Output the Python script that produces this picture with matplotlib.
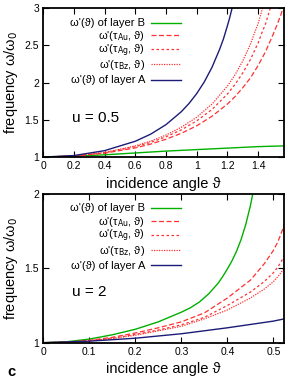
import matplotlib
matplotlib.use("Agg")
import matplotlib.pyplot as plt

plt.rcParams['font.family'] = ['Liberation Sans', 'DejaVu Sans']
plt.rcParams['mathtext.fontset'] = 'dejavusans'

# panel u = 0.5
t_topB = [0, 0.2, 0.4, 0.6, 0.8, 1.0, 1.2, 1.4, 1.5708]
top_B = [1.0, 1.01, 1.03, 1.055, 1.08, 1.10, 1.12, 1.14, 1.15]
t_topAu = [0, 0.2, 0.4, 0.6, 0.7, 0.8, 0.9, 1.0, 1.1, 1.2, 1.25, 1.3, 1.35, 1.4, 1.45, 1.5, 1.525, 1.55, 1.5708]
top_Au = [1.0, 1.013, 1.052, 1.123, 1.174, 1.239, 1.319, 1.419, 1.548, 1.711, 1.811, 1.930,
          2.061, 2.227, 2.420, 2.655, 2.780, 2.919, 3.052]
t_topAg = [0, 0.2, 0.4, 0.6, 0.7, 0.8, 0.9, 1.0, 1.1, 1.2, 1.25, 1.3, 1.35, 1.4, 1.425, 1.45, 1.475, 1.5]
top_Ag = [1.0, 1.014, 1.058, 1.139, 1.197, 1.272, 1.365, 1.485, 1.639, 1.845, 1.975, 2.128,
          2.308, 2.530, 2.667, 2.795, 2.967, 3.152]
t_topBz = [0, 0.2, 0.4, 0.6, 0.7, 0.8, 0.9, 1.0, 1.1, 1.2, 1.25, 1.3, 1.35, 1.375, 1.4, 1.425, 1.45]
top_Bz = [1.0, 1.015, 1.062, 1.150, 1.214, 1.295, 1.400, 1.534, 1.711, 1.952, 2.104, 2.289,
          2.513, 2.655, 2.788, 2.967, 3.152]
t_topA = [0, 0.2, 0.4, 0.6, 0.7, 0.8, 0.9, 0.95, 1.0, 1.05, 1.1, 1.15, 1.175, 1.2, 1.215, 1.23, 1.245]
top_A = [1.0, 1.020, 1.086, 1.212, 1.307, 1.435, 1.609, 1.719, 1.851, 2.010, 2.205, 2.448,
         2.589, 2.760, 2.868, 2.992, 3.126]

# panel u = 2
t_bot = [0, 0.05, 0.1, 0.15, 0.2, 0.25, 0.3, 0.35, 0.4, 0.45, 0.48, 0.5, 0.51, 0.5236]
bot_Au = [1.0, 1.004, 1.016, 1.036, 1.065, 1.10, 1.14, 1.20, 1.30, 1.42, 1.53, 1.62, 1.68, 1.79]
bot_Ag = [1.0, 1.003, 1.013, 1.030, 1.055, 1.085, 1.12, 1.17, 1.25, 1.34, 1.41, 1.47, 1.51, 1.58]
bot_Bz = [1.0, 1.003, 1.012, 1.028, 1.05, 1.08, 1.11, 1.16, 1.22, 1.30, 1.36, 1.41, 1.445, 1.50]
t_botA = [0, 0.1, 0.2, 0.3, 0.4, 0.5, 0.5236]
bot_A = [1.0, 1.01, 1.03, 1.06, 1.10, 1.145, 1.16]
t_botB = [0, 0.05, 0.1, 0.15, 0.2, 0.25, 0.3, 0.32, 0.34, 0.36, 0.38, 0.39, 0.40, 0.41, 0.42,
          0.43, 0.44, 0.45, 0.46]
bot_B = [1.0, 1.006, 1.024, 1.053, 1.09, 1.14, 1.205, 1.235, 1.275, 1.33, 1.40, 1.445, 1.495,
         1.55, 1.615, 1.695, 1.795, 1.92, 2.075]

labels = ["ω'(ϑ) of layer B", r"ω'(τ$_{\rm Au}$, ϑ)", r"ω'(τ$_{\rm Ag}$, ϑ)",
          r"ω'(τ$_{\rm Bz}$, ϑ)", "ω'(ϑ) of layer A"]

green = '#00b000'
red = '#ff3030'
blue = '#1c1c78'
styles = [dict(color=green, lw=1.0),
          dict(color=red, lw=0.9, dashes=(4, 2)),
          dict(color=red, lw=0.9, dashes=(2, 2)),
          dict(color=red, lw=0.9, dashes=(1, 1)),
          dict(color=blue, lw=1.0)]

fig = plt.figure(figsize=(2.88, 3.84), dpi=100)
ax1 = fig.add_axes([0.15, 0.591, 0.837, 0.388])
ax2 = fig.add_axes([0.15, 0.1076, 0.837, 0.3874])


def draw(ax, curves, key_y):
    for (t, v), st in zip(curves, styles):
        ax.plot(t, v, **st)
    # key, drawn by hand to keep the gnuplot row layout
    for lab, st, ky in zip(labels, styles, key_y):
        ax.plot([0.447, 0.571], [ky, ky], transform=ax.transAxes, clip_on=False, **st)
        ax.text(0.422, ky - 0.024, lab, transform=ax.transAxes, ha='right', va='baseline',
                fontsize=8)
    ax.tick_params(direction='in', top=True, right=True, length=4, width=0.8,
                   labelsize=7.5, pad=3)
    for s in ax.spines.values():
        s.set_linewidth(1.3)
    ax.set_xlabel("incidence angle ϑ", fontsize=10.5, labelpad=4)
    ax.set_ylabel("frequency ω/ω$_0$", fontsize=10.5, labelpad=3)


draw(ax1, [(t_topB, top_B), (t_topAu, top_Au), (t_topAg, top_Ag), (t_topBz, top_Bz), (t_topA, top_A)],
     [0.901, 0.818, 0.724, 0.622, 0.518])
ax1.set_xlim(0, 1.5708)
ax1.set_ylim(1, 3)
ax1.set_xticks([0, 0.2, 0.4, 0.6, 0.8, 1.0, 1.2, 1.4])
ax1.set_xticklabels(['0', '0.2', '0.4', '0.6', '0.8', '1', '1.2', '1.4'])
ax1.set_yticks([1, 1.5, 2, 2.5, 3])
ax1.set_yticklabels(['1', '1.5', '2', '2.5', '3'])
ax1.text(0.12, 0.26, "u = 0.5", transform=ax1.transAxes, fontsize=11, va='center')

draw(ax2, [(t_botB, bot_B), (t_bot, bot_Au), (t_bot, bot_Ag), (t_bot, bot_Bz), (t_botA, bot_A)],
     [0.906, 0.818, 0.724, 0.622, 0.522])
ax2.set_xlim(0, 0.5236)
ax2.set_ylim(1, 2)
ax2.set_xticks([0, 0.1, 0.2, 0.3, 0.4, 0.5])
ax2.set_xticklabels(['0', '0.1', '0.2', '0.3', '0.4', '0.5'])
ax2.set_yticks([1, 1.5, 2])
ax2.set_yticklabels(['1', '1.5', '2'])
ax2.text(0.12, 0.34, "u = 2", transform=ax2.transAxes, fontsize=11, va='center')

fig.text(0.025, 0.032, "c", fontsize=10.5, fontweight='bold', va='center')

fig.savefig("out.png", dpi=100)
